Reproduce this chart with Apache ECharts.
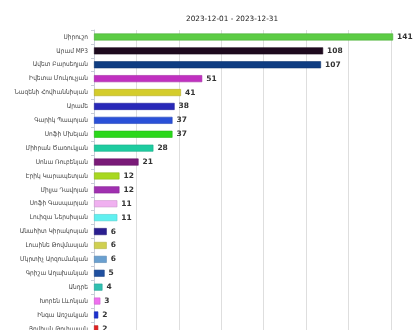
<!DOCTYPE html>
<html><head><meta charset="utf-8">
<script src="https://cdn.jsdelivr.net/npm/echarts@6/dist/echarts.min.js"></script>
<style>html,body{margin:0;padding:0;overflow:hidden;background:#fff}#c{width:420px;height:420px}</style>
</head><body><div id="c"></div>
<script>
const titleText = '2023-12-01 - 2023-12-31';
const categories = ['Սիրուշո','Արամ MP3','Ավետ Բարսեղյան','Իվետա Մուկուչյան','Նազենի Հովհաննիսյան','Արամե','Գարիկ Պապոյան','Սոֆի Մխեյան','Միհրան Ծառուկյան','Սոնա Ռուբենյան','Էրիկ Կարապետյան','Միլյա Դավոյան','Սոֆի Գասպարյան','Լուիզա Ներսիսյան','Անահիտ Կիրակոսյան','Լուսինե Թովմասյան','Մկրտիչ Արզումանյան','Գրիշա Աղախանյան','Անդրե','Խորեն Լևոնյան','Ինգա Առշակյան','Յովհան Թոփալյան'];
const values = [141,108,107,51,41,38,37,37,28,21,12,12,11,11,6,6,6,5,4,3,2,2];
const colors = ['#5ccc45','#1e0a1e','#0f3d82','#c030c0','#d4cc2c','#2828b8','#2a50d8','#2ad81a','#1ecca0','#7a1a78','#a8d820','#a030b0','#f0b0f0','#60f0f0','#2a1e90','#d0d050','#6aa0d0','#2050a0','#30c0b0','#f070f0','#1a30d0','#e02020'];
const xTicks = {min:0, max:140, interval:20};

function darken(hex){const n=parseInt(hex.slice(1),16);let r=n>>16,g=(n>>8)&255,b=n&255;r=Math.round(r*0.85);g=Math.round(g*0.85);b=Math.round(b*0.85);return 'rgb('+r+','+g+','+b+')';}

const chart = echarts.init(document.getElementById('c'), null, {renderer:'canvas'});
chart.setOption({
  animation:false,
  title:{text:titleText,left:181,top:11,textStyle:{fontFamily:'DejaVu Sans',fontSize:7.3,fontWeight:'normal',color:'#222'}},
  grid:{left:94,top:30,width:297,height:categories.length*13.9},
  xAxis:{type:'value',min:xTicks.min,max:xTicks.max,interval:xTicks.interval,
    axisLine:{show:false},axisTick:{show:false},axisLabel:{show:false},
    splitLine:{lineStyle:{color:'#dedede',width:1}}},
  yAxis:{type:'category',inverse:true,data:categories,
    axisLine:{lineStyle:{color:'#c8cdd8'}},
    axisTick:{show:true,length:3,lineStyle:{color:'#c8cdd8'}},
    axisLabel:{fontFamily:'DejaVu Sans Condensed',fontSize:6.5,color:'#444',margin:6}},
  series:[{type:'bar',clip:false,barWidth:7,
    data:values.map((v,i)=>({value:v,itemStyle:{color:colors[i],borderColor:darken(colors[i]),borderWidth:0.6}})),
    label:{show:true,position:'right',distance:4,fontFamily:'DejaVu Sans',fontSize:7.5,fontWeight:'bold',color:'#333'}}]
});
</script></body></html>
